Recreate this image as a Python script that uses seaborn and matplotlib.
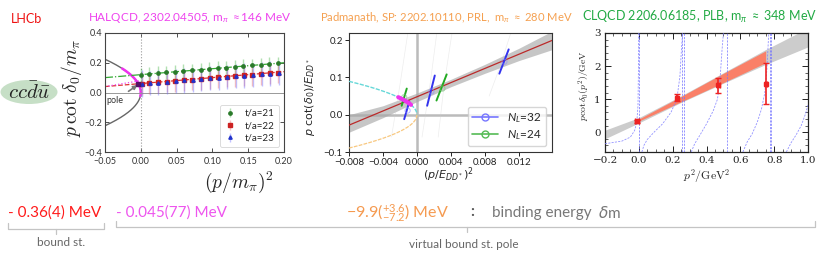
import numpy as np
import pandas as pd
import matplotlib
matplotlib.use('Agg')
import matplotlib.pyplot as plt
import seaborn as sns
from matplotlib.patches import Ellipse
from matplotlib.lines import Line2D
from matplotlib.ticker import MultipleLocator, FixedLocator
from matplotlib.colors import to_rgba

sns.set_theme(style='white')
plt.rcParams['font.family'] = ['Lato', 'DejaVu Sans']
plt.rcParams['mathtext.fontset'] = 'custom'
plt.rcParams['mathtext.rm'] = 'Lato'
plt.rcParams['mathtext.it'] = 'Lato:italic'
plt.rcParams['mathtext.bf'] = 'Lato:bold'

# ---------------- data: HALQCD panel ----------------
halq_x = [0.001, 0.012, 0.024, 0.036, 0.048, 0.060, 0.072, 0.084, 0.096,
          0.108, 0.120, 0.132, 0.144, 0.156, 0.168, 0.180, 0.192]
halq_y21 = [0.120, 0.125, 0.130, 0.135, 0.140, 0.143, 0.148, 0.153, 0.158,
            0.163, 0.168, 0.172, 0.177, 0.182, 0.187, 0.190, 0.195]
halq_e21 = [0.048, 0.046, 0.046, 0.046, 0.046, 0.046, 0.046, 0.046, 0.046,
            0.046, 0.046, 0.046, 0.046, 0.046, 0.046, 0.046, 0.046]
halq_y22 = [0.060, 0.064, 0.068, 0.073, 0.078, 0.082, 0.087, 0.092, 0.097,
            0.101, 0.106, 0.110, 0.115, 0.119, 0.124, 0.128, 0.133]
halq_e22 = [0.075, 0.072, 0.072, 0.072, 0.072, 0.072, 0.072, 0.072, 0.072,
            0.072, 0.072, 0.072, 0.072, 0.072, 0.072, 0.072, 0.072]
halq_y23 = [0.058, 0.062, 0.067, 0.072, 0.077, 0.081, 0.086, 0.091, 0.096,
            0.100, 0.105, 0.109, 0.114, 0.118, 0.123, 0.127, 0.132]
halq_e23 = [0.090, 0.082, 0.082, 0.082, 0.082, 0.082, 0.082, 0.082, 0.082,
            0.082, 0.082, 0.082, 0.082, 0.082, 0.082, 0.082, 0.082]
halq_labels = ['t/a=21', 't/a=22', 't/a=23']
halq_fit_x = [-0.05, 0.20]
halq_fit21 = [0.100, 0.200]
halq_fit22 = [0.040, 0.140]
halq_pole = (-0.0038, 0.060)

# ---------------- data: Padmanath panel ----------------
pad_band_x = [-0.008, -0.004, 0.0, 0.004, 0.008, 0.012, 0.016]
pad_band_lo = [-0.047, -0.008, 0.035, 0.075, 0.111, 0.145, 0.175]
pad_band_hi = [0.000, 0.024, 0.058, 0.095, 0.135, 0.178, 0.225]
pad_fit_x = [-0.008, 0.016]
pad_fit_y = [-0.028, 0.200]
pad_n32 = [[(-0.0015, -0.012), (-0.0009, 0.035)],
           [(0.0012, 0.024), (0.0021, 0.105)],
           [(0.0097, 0.110), (0.0108, 0.175)]]
pad_n24 = [[(-0.0018, 0.024), (-0.0012, 0.070)],
           [(0.0023, 0.038), (0.0035, 0.108)]]
pad_circ32 = [(-0.0011, 0.011), (0.0017, 0.062), (0.0103, 0.142)]
pad_circ24 = [(-0.0015, 0.047), (0.0030, 0.070)]
pad_faint = [[(-0.0030, -0.06), (-0.0020, 0.08), (-0.0010, 0.23)],
             [(0.0006, -0.06), (0.0016, 0.09), (0.0024, 0.23)],
             [(0.0025, -0.06), (0.0032, 0.08), (0.0042, 0.23)],
             [(0.0085, 0.05), (0.0098, 0.13), (0.0112, 0.23)]]

# ---------------- data: CLQCD panel ----------------
clq_x = [-0.010, 0.226, 0.470, 0.752]
clq_y = [0.33, 1.04, 1.42, 1.47]
clq_yerr = [0.04, 0.11, 0.22, 0.62]
clq_xerr = [0.012, 0.008, 0.008, 0.006]
clq_gray_x = [-0.2, 0.0, 0.25, 0.5, 0.75, 1.0]
clq_gray_lo = [-0.20, 0.28, 0.90, 1.48, 2.05, 2.58]
clq_gray_hi = [0.06, 0.44, 1.10, 1.80, 2.50, 3.15]
clq_red_x = [-0.01, 0.25, 0.50, 0.75]
clq_red_lo = [0.31, 0.92, 1.50, 2.10]
clq_red_hi = [0.37, 1.08, 1.78, 2.46]
clq_vlines = [0.0, 0.258, 0.265, 0.52, 0.776, 0.782]
clq_branches = [
    ([-0.2, -0.1, -0.05, -0.025, -0.012, -0.005, -0.002, -0.001],
     [-0.35, -0.27, -0.15, 0.05, 0.30, 0.80, 2.0, 3.0]),
    ([0.018, 0.03, 0.05, 0.09, 0.14, 0.19, 0.225, 0.243, 0.253, 0.259],
     [-0.6, -0.4, -0.22, 0.0, 0.25, 0.6, 1.0, 1.7, 2.6, 3.0]),
    ([0.31, 0.33, 0.36, 0.40, 0.44, 0.465, 0.48, 0.492, 0.50],
     [-0.6, -0.35, -0.1, 0.25, 0.65, 1.0, 1.6, 2.5, 3.0]),
    ([0.615, 0.64, 0.67, 0.70, 0.725, 0.745, 0.757, 0.764, 0.768],
     [-0.6, -0.3, -0.05, 0.3, 0.7, 1.2, 1.9, 2.6, 3.0]),
    ([0.872, 0.90, 0.93, 0.96, 0.985, 1.0],
     [-0.6, -0.32, -0.08, 0.2, 0.55, 0.82]),
]

# ---------------- text ----------------
title_lhcb = 'LHCb'
title_halq = r'HALQCD, 2302.04505, m$_\pi$ $\approx$146 MeV'
title_pad = r'Padmanath, SP: 2202.10110, PRL,  m$_\pi$ $\approx$ 280 MeV'
title_clq = r'CLQCD 2206.06185, PLB, m$_\pi$ $\approx$ 348 MeV'
res_lhcb = '- 0.36(4) MeV'
res_halq = '- 0.045(77) MeV'
res_pad = r'$-9.9(^{+3.6}_{-7.2})$ MeV'
res_desc = 'binding energy'
lab_bound = 'bound st.'
lab_virtual = 'virtual bound st. pole'

W, H = 822, 257
fig = plt.figure(figsize=(W / 100, H / 100), dpi=100)


def box(x0, y0, x1, y1):
    return [x0 / W, 1 - y1 / H, (x1 - x0) / W, (y1 - y0) / H]


# overlay for free-form annotations (pixel coordinates)
ov = fig.add_axes([0, 0, 1, 1])
ov.set_xlim(0, W)
ov.set_ylim(H, 0)
ov.axis('off')
ov.patch.set_alpha(0)

ov.add_patch(Ellipse((29, 92), 57, 24, facecolor='#c6dfc6', edgecolor='none'))
ov.text(29, 92, r'$cc\bar{d}\bar{u}$', fontsize=15, ha='center', va='center',
        math_fontfamily='cm', color='#222222')

ov.text(26, 19, title_lhcb, color='#ee1111', fontsize=9, ha='center', va='center')
ov.text(190, 18, title_halq, color='#ee44ee', fontsize=8.5, ha='center', va='center')
ov.text(446, 18, title_pad, color='#f5a050', fontsize=8.1, ha='center', va='center')
ov.text(700, 17, title_clq, color='#22aa44', fontsize=9.0, ha='center', va='center')

ov.text(8, 213, res_lhcb, color='#ff1a1a', fontsize=11, ha='left', va='center')
ov.text(116, 213, res_halq, color='#ee55ee', fontsize=11, ha='left', va='center')
ov.text(346, 213, res_pad, color='#f59a50', fontsize=11.5, ha='left', va='center')
ov.text(472, 212, ':', color='#555555', fontsize=11, ha='center', va='center',
        fontweight='bold')
ov.text(492, 213, res_desc, color='#777777', fontsize=11, ha='left', va='center')
ov.text(598, 213, r'$\delta$m', color='#777777', fontsize=11, ha='left', va='center',
        math_fontfamily='dejavusans')
ov.text(61, 243, lab_bound, color='#666666', fontsize=8.5, ha='center', va='center')
ov.text(464, 245, lab_virtual, color='#666666', fontsize=8.5, ha='center', va='center')

bc = '#c4c4c4'
ov.plot([8, 8, 104, 104], [223, 229, 229, 223], color=bc, lw=0.9)
ov.plot([56, 56], [229, 234], color=bc, lw=0.9)
ov.plot([116, 116, 815, 815], [221, 227, 227, 221], color=bc, lw=0.9)
ov.plot([467, 467], [227, 232], color=bc, lw=0.9)

# ---------------- panel 1: HALQCD ----------------
ax1 = fig.add_axes(box(105, 33, 284, 152))
ax1.set_facecolor('white')
xs = np.linspace(-0.05, 0.0, 200)
ax1.plot(xs, np.sqrt(-xs), color='#666666', lw=1.0)
ax1.plot(xs, -np.sqrt(-xs), color='#666666', lw=1.0)
xm = np.linspace(-0.026, 0.0, 80)
ax1.plot(xm, np.sqrt(-xm), color='#ee33ee', lw=1.8)
xm2 = np.linspace(-0.0006, 0.0, 20)
ax1.plot(xm2, -np.sqrt(-xm2), color='#ee33ee', lw=1.8)
ax1.axvline(0, color='#999999', lw=0.8, ls=':')
ax1.axhline(0, color='#999999', lw=0.7)

fit_df = pd.DataFrame({'x': halq_fit_x * 2, 'y': halq_fit21 + halq_fit22,
                       's': ['21', '21', '22', '22']})
sns.lineplot(data=fit_df[fit_df.s == '21'], x='x', y='y', ax=ax1, color='#33aa33',
             lw=0.9, ls='-.', legend=False)
sns.lineplot(data=fit_df[fit_df.s == '22'], x='x', y='y', ax=ax1, color='#dd3333',
             lw=0.9, ls='--', legend=False)
ax1.plot([halq_fit_x[0], 0.0], [halq_fit22[0], halq_fit22[0] + 0.05 * 0.4 * 2],
         color='#ee44ee', lw=0.9, ls=':')

series = [(halq_y21, halq_e21, '#2a7a2a', to_rgba('#55bb55', 0.45), 'o', -0.0006),
          (halq_y22, halq_e22, '#cc2222', to_rgba('#ee6666', 0.4), 's', 0.0),
          (halq_y23, halq_e23, '#2233cc', to_rgba('#6666ff', 0.4), '^', 0.0006)]
for (yy, ee, c, ec, m, dx), lab in zip(series, halq_labels):
    ax1.errorbar(np.array(halq_x) + dx, yy, yerr=ee, fmt=m, ms=2.4, color=c,
                 ecolor=ec, elinewidth=1.0, label=lab, capsize=0, zorder=3)
ax1.plot([halq_pole[0]], [halq_pole[1]], 's', color='#551166', ms=3.5, zorder=5)
ax1.annotate('pole', xy=(halq_pole[0] - 0.0008, halq_pole[1] - 0.01),
             xytext=(-0.036, -0.055), fontsize=6.5, color='#333333',
             ha='center', va='center',
             arrowprops=dict(arrowstyle='-|>', color='#777777', lw=1.2,
                             mutation_scale=6, shrinkA=2, shrinkB=0))
ax1.set_xlim(-0.05, 0.20)
ax1.set_ylim(-0.4, 0.4)
ax1.xaxis.set_major_locator(FixedLocator([-0.05, 0.0, 0.05, 0.10, 0.15, 0.20]))
ax1.yaxis.set_major_locator(FixedLocator([-0.4, -0.2, 0.0, 0.2, 0.4]))
ax1.set_xticklabels(['\u22120.05', '0.00', '0.05', '0.10', '0.15', '0.20'])
ax1.set_yticklabels(['\u22120.4', '\u22120.2', '0.0', '0.2', '0.4'])
ax1.tick_params(direction='in', top=True, right=True, labelsize=6.5, length=3,
                width=0.6, pad=2, colors='#333333', bottom=True, left=True)
ax1.tick_params(axis='x', pad=3.5)
for sp in ax1.spines.values():
    sp.set_color('#444444')
    sp.set_linewidth(0.8)
ax1.set_xlabel('')
ax1.set_ylabel('')
leg = ax1.legend(loc='lower right', fontsize=7, frameon=True, handlelength=1.2,
                 borderpad=0.45, labelspacing=0.35, handletextpad=0.9)
leg.get_frame().set_edgecolor('#cccccc')
leg.get_frame().set_linewidth(0.6)
fig.text(71 / W, 1 - 88 / H, r'$p\,\cot\,\delta_0/m_\pi$', rotation=90, fontsize=14,
         ha='center', va='center', math_fontfamily='cm')
fig.text(239 / W, 1 - 182 / H, r'$(p/m_\pi)^2$', fontsize=14, ha='center',
         va='center', math_fontfamily='cm')

# ---------------- panel 2: Padmanath ----------------
ax2 = fig.add_axes(box(349, 33, 552, 152))
ax2.set_facecolor('white')
ax2.axvline(0, color='#bbbbbb', lw=1.8, zorder=1)
ax2.axhline(0, color='#bbbbbb', lw=1.8, zorder=1)
ax2.fill_between(pad_band_x, pad_band_lo, pad_band_hi, color='#a8a8a8',
                 alpha=0.65, lw=0, zorder=2)
sns.lineplot(x=pad_fit_x, y=pad_fit_y, ax=ax2, color='#bb2a2a', lw=0.9, zorder=3)
for seg in pad_faint:
    ax2.plot([p[0] for p in seg], [p[1] for p in seg], color='#cccccc', lw=0.5,
             alpha=0.35, zorder=2)
xc = np.linspace(-0.008, 0.0, 200)
ax2.plot(xc, np.sqrt(-xc), color='#66d8d8', lw=1.0, ls=(0, (3, 1)), zorder=3)
ax2.plot(xc, -np.sqrt(-xc), color='#f8c880', lw=0.9, ls=(0, (3, 1)), zorder=3)
xm = np.linspace(-0.0022, -0.0007, 30)
ax2.plot(xm, np.sqrt(-xm), color='#ee33ee', lw=3.0, zorder=5)
for seg in pad_n32:
    ax2.plot([seg[0][0], seg[1][0]], [seg[0][1], seg[1][1]], color='#3333ee',
             lw=1.4, zorder=4)
for seg in pad_n24:
    ax2.plot([seg[0][0], seg[1][0]], [seg[0][1], seg[1][1]], color='#22aa22',
             lw=1.4, zorder=4)
ax2.scatter([p[0] for p in pad_circ32], [p[1] for p in pad_circ32], s=14,
            facecolors='none', edgecolors='#8888ff', lw=0.7, zorder=4, alpha=0.6)
ax2.scatter([p[0] for p in pad_circ24], [p[1] for p in pad_circ24], s=14,
            facecolors='none', edgecolors='#77cc77', lw=0.7, zorder=4, alpha=0.6)
ax2.set_xlim(-0.008, 0.0159)
ax2.set_ylim(-0.1, 0.219)
ax2.xaxis.set_major_locator(FixedLocator([-0.008, -0.004, 0.0, 0.004, 0.008, 0.012]))
ax2.yaxis.set_major_locator(FixedLocator([-0.1, 0.0, 0.1, 0.2]))
ax2.set_xticklabels(['\u22120.008', '\u22120.004', '0.000', '0.004', '0.008', '0.012'])
ax2.set_yticklabels(['\u22120.1', '0.0', '0.1', '0.2'])
ax2.tick_params(direction='out', labelsize=7, length=3, width=0.7, pad=1.5,
                colors='#222222', bottom=True, left=True)
for sp in ax2.spines.values():
    sp.set_color('#333333')
    sp.set_linewidth(0.8)
ax2.set_xlabel('')
ax2.set_ylabel('')
handles = [Line2D([0], [0], color='#7777ff', marker='o', mfc='none', ms=5, lw=1.2),
           Line2D([0], [0], color='#55bb55', marker='o', mfc='none', ms=5, lw=1.2)]
leg2 = ax2.legend(handles, [r'$N_L$=32', r'$N_L$=24'], loc='lower right',
                  fontsize=8.5, frameon=True, handlelength=2.2, borderpad=0.35,
                  labelspacing=0.3)
leg2.get_frame().set_edgecolor('#cccccc')
fig.text(310 / W, 1 - 97 / H, r'$p$ cot($\delta_0$)/$E_{DD^*}$', rotation=90,
         fontsize=8, ha='center', va='center', math_fontfamily='dejavusans',
         family='DejaVu Sans')
fig.text(448 / W, 1 - 175 / H, r'$(p/E_{DD^*})^2$', fontsize=8, ha='center',
         va='center', math_fontfamily='dejavusans')

# ---------------- panel 3: CLQCD ----------------
ax3 = fig.add_axes(box(605, 33, 808, 152))
ax3.set_facecolor('white')
ax3.fill_between(clq_gray_x, clq_gray_lo, clq_gray_hi, color='#cccccc', lw=0,
                 zorder=1)
ax3.fill_between(clq_red_x, clq_red_lo, clq_red_hi, color='#fa8068', lw=0,
                 zorder=2)
for vx in clq_vlines:
    ax3.axvline(vx, color='#7070ff', lw=0.6, ls=(0, (2.5, 1.5)), zorder=3,
                alpha=0.85)
n_before = len(ax3.lines)
for bx, by in clq_branches:
    sns.lineplot(x=bx, y=by, ax=ax3, color='#8080ff', lw=0.6, sort=False,
                 estimator=None, zorder=3, alpha=0.85)
for line in ax3.lines[n_before:]:
    line.set_linestyle((0, (2.5, 1.5)))
ax3.errorbar(clq_x, clq_y, yerr=clq_yerr, xerr=clq_xerr, fmt='s', ms=3.5,
             color='#ee2222', ecolor='#ee2222', elinewidth=1.2, capsize=2.5,
             capthick=1.0, zorder=5)
ax3.set_xlim(-0.2, 1.0)
ax3.set_ylim(-0.6, 3.0)
ax3.xaxis.set_major_locator(FixedLocator([-0.2, 0.0, 0.2, 0.4, 0.6, 0.8, 1.0]))
ax3.yaxis.set_major_locator(FixedLocator([0, 1, 2, 3]))
ax3.xaxis.set_minor_locator(MultipleLocator(0.05))
ax3.yaxis.set_minor_locator(MultipleLocator(0.2))
ax3.set_xticklabels(['\u22120.2', '0.0', '0.2', '0.4', '0.6', '0.8', '1.0'],
                    family='DejaVu Serif')
ax3.set_yticklabels(['0', '1', '2', '3'], family='DejaVu Serif')
ax3.tick_params(which='both', direction='in', top=True, right=True,
                labelsize=7.5, colors='#222222', bottom=True, left=True)
ax3.tick_params(which='major', length=4, width=0.7, pad=3)
ax3.tick_params(which='minor', length=2, width=0.5)
for sp in ax3.spines.values():
    sp.set_color('#222222')
    sp.set_linewidth(0.9)
ax3.set_xlabel('')
ax3.set_ylabel('')
fig.text(584 / W, 1 - 86 / H, r'$p\cot\delta_0(p^2)/\mathrm{GeV}$', rotation=90,
         fontsize=7, ha='center', va='center', math_fontfamily='cm')
fig.text(707 / W, 1 - 176 / H, r'$p^2/\mathrm{GeV}^2$', fontsize=8.5,
         ha='center', va='center', math_fontfamily='cm')

fig.savefig('out.png', dpi=100)
